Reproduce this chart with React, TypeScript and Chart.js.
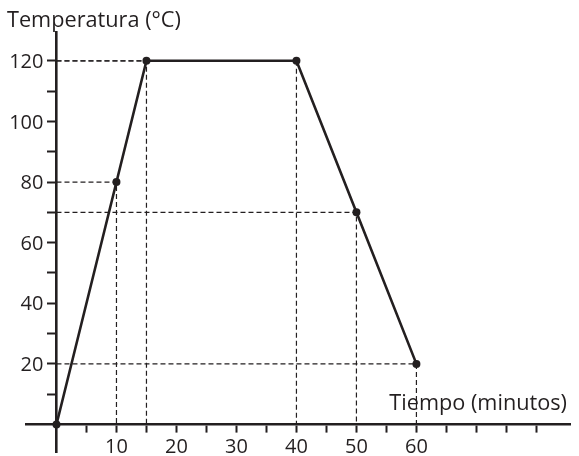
import React, { useEffect, useRef } from 'react';
import { Chart, registerables } from 'chart.js';

Chart.register(...registerables);

// Data
const times = [0, 10, 15, 40, 50, 60];
const temps = [0, 80, 120, 120, 70, 20];
const xTickValues = [5, 10, 15, 20, 25, 30, 35, 40, 45, 50, 55, 60, 65, 70, 75, 80];
const xLabelValues = [10, 20, 30, 40, 50, 60];
const yTickValues = [10, 20, 30, 40, 50, 60, 70, 80, 90, 100, 110, 120];
const yLabelValues = [20, 40, 60, 80, 100, 120];
const yTitle = 'Temperatura (°C)';
const xTitle = 'Tiempo (minutos)';

const INK = '#231f20';
const FONT_FAMILY = '"Open Sans", "Noto Sans", sans-serif';
const TITLE_SIZE = 21.7;
const LABEL_SIZE = 20;

const textPlugin = {
  id: 'axisText',
  afterDraw(chart: any) {
    const { ctx, chartArea, scales } = chart;
    const xs = scales.x;
    const ys = scales.y;
    const x0 = xs.getPixelForValue(0);
    const y0 = ys.getPixelForValue(0);
    ctx.save();
    ctx.fillStyle = INK;
    // tick labels
    ctx.font = `${LABEL_SIZE}px ${FONT_FAMILY}`;
    ctx.textBaseline = 'alphabetic';
    ctx.textAlign = 'right';
    yLabelValues.forEach((v) => {
      ctx.fillText(String(v), x0 - 13, ys.getPixelForValue(v) + 7.2);
    });
    ctx.textAlign = 'center';
    xLabelValues.forEach((v) => {
      ctx.fillText(String(v), xs.getPixelForValue(v), y0 + 28);
    });
    // axis titles
    ctx.font = `${TITLE_SIZE}px ${FONT_FAMILY}`;
    ctx.textAlign = 'left';
    ctx.fillText(yTitle, 7, 26.5);
    ctx.textAlign = 'right';
    ctx.fillText(xTitle, chartArea.right - 3, 410);
    ctx.restore();
  },
};

export default function App() {
  const canvasRef = useRef<HTMLCanvasElement | null>(null);

  useEffect(() => {
    const canvas = canvasRef.current;
    if (!canvas) return;

    const mainData = times.map((t, i) => ({ x: t, y: temps[i] }));
    const guideSets = times
      .map((t, i) => ({ t, v: temps[i] }))
      .filter((p) => p.t !== 0)
      .map((p) => ({
        type: 'line' as const,
        data: [
          { x: 0, y: p.v },
          { x: p.t, y: p.v },
          { x: p.t, y: 0 },
        ],
        borderColor: INK,
        borderWidth: 1.2,
        borderDash: [5, 3],
        pointRadius: 0,
        fill: false,
        tension: 0,
      }));

    const chart = new Chart(canvas, {
      type: 'line',
      data: {
        datasets: [
          {
            data: mainData,
            borderColor: INK,
            backgroundColor: INK,
            borderWidth: 2.6,
            pointRadius: 4,
            pointBackgroundColor: INK,
            pointBorderWidth: 0,
            fill: false,
            tension: 0,
          },
          ...guideSets,
        ],
      },
      options: {
        responsive: false,
        animation: false,
        events: [],
        layout: { padding: { left: 26, right: 9, top: 32, bottom: 0 } },
        plugins: {
          legend: { display: false },
          tooltip: { enabled: false },
          title: { display: false },
        },
        scales: {
          x: {
            type: 'linear',
            min: -5.08,
            max: 85.6,
            position: { y: 0 },
            afterBuildTicks: (s: any) => {
              s.ticks = xTickValues.map((v) => ({ value: v }));
            },
            grid: {
              display: true,
              drawOnChartArea: false,
              drawTicks: true,
              tickLength: 7,
              tickWidth: 2,
              tickColor: INK,
            },
            border: { display: true, color: INK, width: 2.6 },
            ticks: { display: false, autoSkip: false },
          },
          y: {
            type: 'linear',
            min: -9.07,
            max: 129.5,
            position: { x: 0 },
            afterBuildTicks: (s: any) => {
              s.ticks = yTickValues.map((v) => ({ value: v }));
            },
            grid: {
              display: true,
              drawOnChartArea: false,
              drawTicks: true,
              tickLength: 8,
              tickWidth: 2,
              tickColor: INK,
            },
            border: { display: true, color: INK, width: 2.6 },
            ticks: { display: false, autoSkip: false },
          },
        },
      },
      plugins: [textPlugin],
    });

    return () => chart.destroy();
  }, []);

  return (
    <div style={{ position: 'fixed', left: 0, top: 0, width: 579, height: 456, background: '#fff' }}>
      <canvas ref={canvasRef} width={579} height={456} style={{ display: 'block' }} />
    </div>
  );
}
